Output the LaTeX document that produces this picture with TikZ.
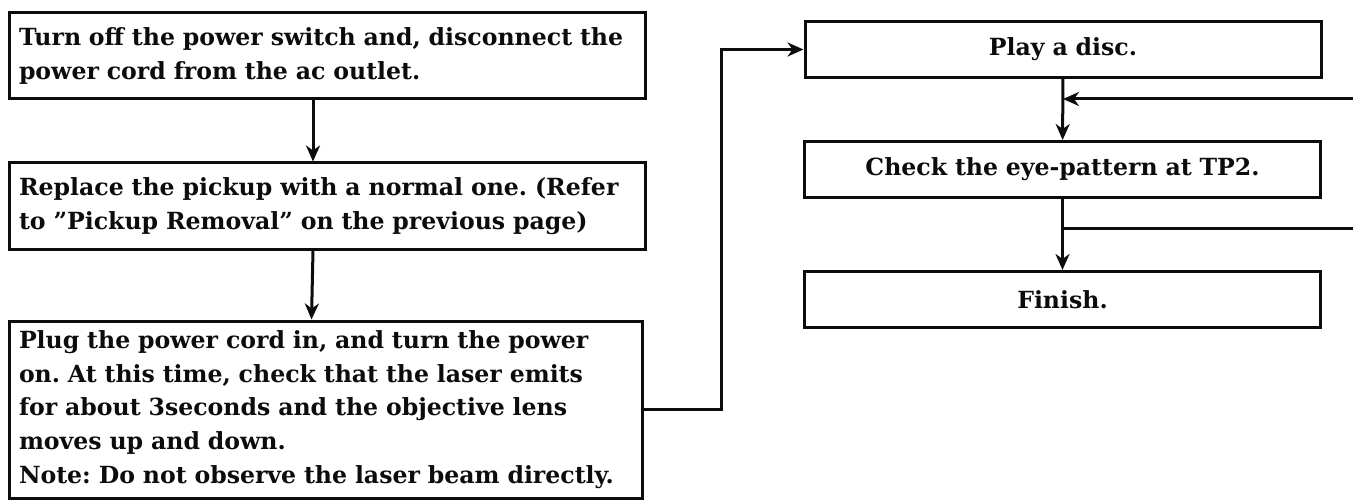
\documentclass[tikz,border=0pt]{standalone}
\usepackage{fontspec}
\setmainfont{DejaVu Serif}
\usepackage{tikz}
\usetikzlibrary{
    arrows.meta,
    positioning,
    calc
}
\definecolor{ink}{RGB}{12,12,12}
\tikzset{
    % Step boxes
    stepbox/.style={
        rectangle,
        draw=ink,
        line width=1.5pt,
        inner xsep=5pt,
        inner ysep=0pt,
        align=left,
        text=ink,
        font=\bfseries\frenchspacing\fontsize{11.8}{16.8}\selectfont
    },
    shortbox/.style={
        stepbox,
        align=center,
        text width=248pt,
        minimum height=28pt
    },
    % Connectors
    arrow/.style={
        -{Stealth[length=8pt,width=7pt,inset=2.5pt]},
        line width=1.5pt,
        draw=ink
    },
    plainline/.style={
        line width=1.5pt,
        draw=ink
    }
}
\begin{document}
\begin{tikzpicture}[x=0.5pt, y=-0.5pt]

    \useasboundingbox (0,0) rectangle (1353,502);

    % Left column
    \node[stepbox, text width=308pt, minimum height=43pt] (turnoff) at (327,56) {Turn off the power switch and, disconnect the\\power cord from the ac outlet.};

    \node[stepbox, text width=308pt, minimum height=43pt] (replace) at (327,206) {Replace the pickup with a normal one. (Refer\\to ”Pickup Removal” on the previous page)};

    \node[stepbox, text width=306.5pt, minimum height=88.5pt] (plugin) at (325.5,409.5) {Plug the power cord in, and turn the power\\on. At this time, check that the laser emits\\for about 3seconds and the objective lens\\moves up and down.\\Note: Do not observe the laser beam directly.};

    % Right column
    \node[shortbox] (play) at (1063,49.5) {Play a disc.};
    \node[shortbox] (check) at (1062.5,169.5) {Check the eye-pattern at TP2.};
    \node[shortbox] (finish) at (1062.5,299.5) {Finish.};

    % Loose ends at the right border
    \coordinate (retry) at (1353,99);
    \coordinate (branch) at (1353,229);

    % Arrows - left column
    \draw[arrow] ([xshift=-7pt]turnoff.south) -- ([xshift=-7pt]replace.north);
    \draw[arrow] ([xshift=-7pt]replace.south) -- ([xshift=-7pt]plugin.north);
    \draw[arrow] (plugin.east) -- ++(39pt,0) |- (play.west);

    % Arrows - right column
    \draw[arrow] (play) -- (check);
    \draw[arrow] (check) -- (finish);
    \draw[arrow] (retry) -- (retry -| play.south);
    \draw[plainline] (check.south |- branch) -- (branch);

\end{tikzpicture}
\end{document}
